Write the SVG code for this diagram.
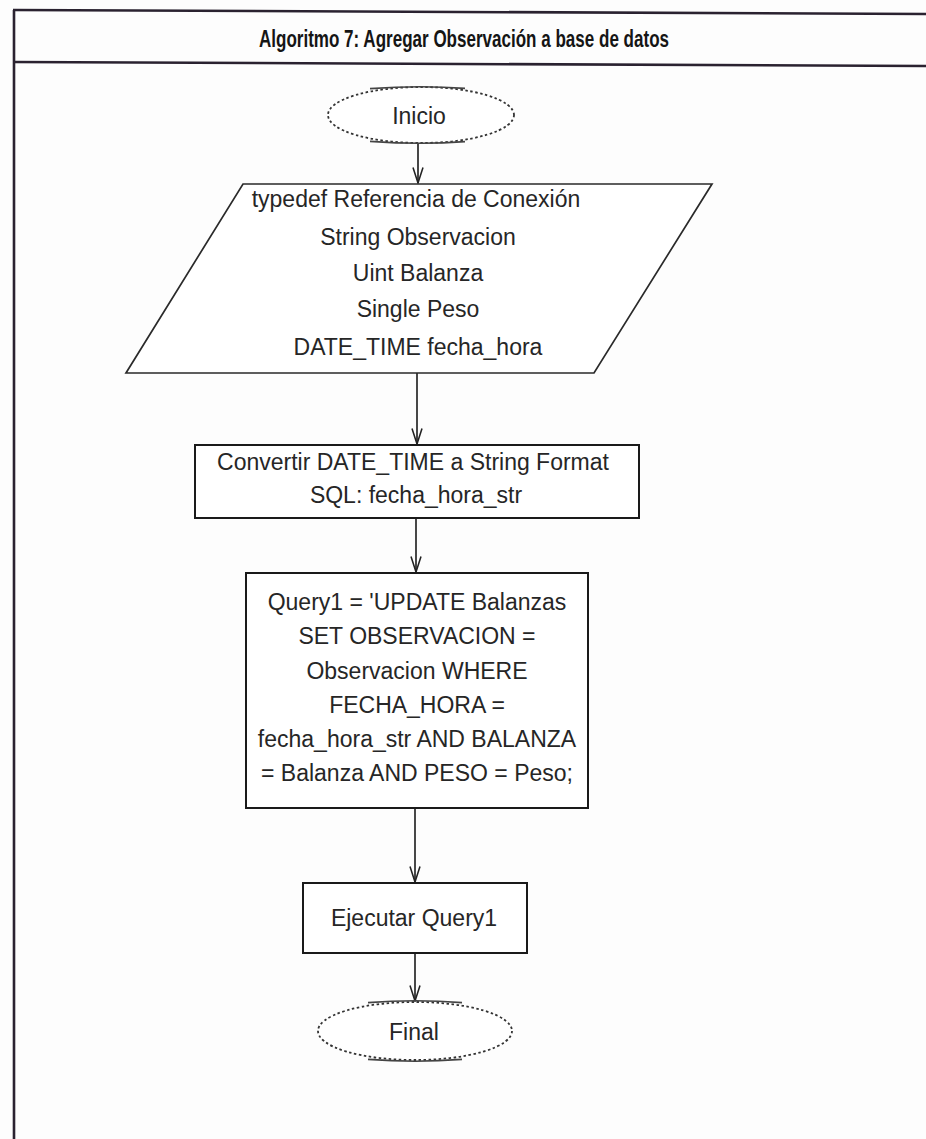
<svg xmlns="http://www.w3.org/2000/svg" width="926" height="1139" viewBox="0 0 926 1139">
  <defs>
    <marker id="vhead" markerUnits="userSpaceOnUse" orient="auto" refX="0" refY="0" markerWidth="20" markerHeight="20" viewBox="-16 -8 18 16" overflow="visible">
      <path d="M-14,-4.5 L0,0 L-14,4.5" fill="none" stroke="#222" stroke-width="1.4"/>
    </marker>
  </defs>
  <style>
    .frame { stroke: #2a2230; stroke-width: 2.6; fill: none; }
    .title { font-family: "Liberation Sans Narrow", "Liberation Sans", Arial, sans-serif; font-weight: bold; font-size: 24px; fill: #151515; text-anchor: middle; }
    .lbl { font-family: "Liberation Sans", Arial, sans-serif; font-size: 23px; fill: #262626; text-anchor: middle; }
    .box { fill: #ffffff; stroke: #1a1a1a; stroke-width: 2; }
    .para { fill: #ffffff; stroke: #2a2a2a; stroke-width: 1.7; }
    .term-dots { fill: #ffffff; stroke: #333; stroke-width: 1.8; stroke-dasharray: 2.5 2.5; }
    .term-solid { fill: none; stroke: #444; stroke-width: 1.6; }
    .edge { stroke: #1a1a1a; stroke-width: 1.6; fill: none; marker-end: url(#vhead); }
  </style>

  <rect x="0" y="0" width="926" height="1139" fill="#fdfdfd"/>

  <!-- outer frame and title band -->
  <g id="frame">
    <line class="frame" x1="14" y1="10" x2="14" y2="1139"/>
    <line class="frame" x1="13" y1="10" x2="926" y2="14"/>
    <line class="frame" x1="13" y1="62" x2="926" y2="66"/>
    <text class="title" x="464" y="47" textLength="410" lengthAdjust="spacingAndGlyphs">Algoritmo 7: Agregar Observación a base de datos</text>
  </g>

  <!-- connectors -->
  <g id="connectors">
    <line class="edge" x1="418" y1="143" x2="418" y2="183"/>
    <line class="edge" x1="417" y1="373" x2="417" y2="444"/>
    <line class="edge" x1="416" y1="518" x2="416" y2="572"/>
    <line class="edge" x1="415" y1="808" x2="415" y2="882"/>
    <line class="edge" x1="415" y1="953" x2="415" y2="1001"/>
  </g>

  <g id="inicio">
    <ellipse class="term-dots" cx="421" cy="115" rx="93" ry="28"/>
    <path class="term-solid" d="M370,88.6 Q421,85 465,88.4 M370,141.4 Q421,145 465,141.6"/>
    <text class="lbl" x="419" y="124">Inicio</text>
  </g>

  <g id="declaraciones">
    <polygon class="para" points="243,184 712,184 594,373 126,373"/>
    <text class="lbl" x="416" y="207">typedef Referencia de Conexión</text>
    <text class="lbl" x="418" y="245">String Observacion</text>
    <text class="lbl" x="418" y="281">Uint Balanza</text>
    <text class="lbl" x="418" y="317">Single Peso</text>
    <text class="lbl" x="418" y="355">DATE_TIME fecha_hora</text>
  </g>

  <g id="convertir">
    <rect class="box" x="195" y="445" width="444" height="73"/>
    <text class="lbl" x="413" y="470">Convertir DATE_TIME a String Format</text>
    <text class="lbl" x="416" y="503">SQL: fecha_hora_str</text>
  </g>

  <g id="query">
    <rect class="box" x="246" y="573" width="342" height="235"/>
    <text class="lbl" x="417" y="610">Query1 = 'UPDATE Balanzas</text>
    <text class="lbl" x="417" y="644">SET OBSERVACION =</text>
    <text class="lbl" x="417" y="679">Observacion WHERE</text>
    <text class="lbl" x="417" y="713">FECHA_HORA =</text>
    <text class="lbl" x="417" y="747">fecha_hora_str AND BALANZA</text>
    <text class="lbl" x="417" y="781">= Balanza AND PESO = Peso;</text>
  </g>

  <g id="ejecutar">
    <rect class="box" x="303" y="883" width="224" height="70"/>
    <text class="lbl" x="414" y="926">Ejecutar Query1</text>
  </g>

  <g id="final">
    <ellipse class="term-dots" cx="415" cy="1031" rx="97" ry="29"/>
    <path class="term-solid" d="M368,1002.6 Q415,999 462,1002.6 M368,1059.4 Q415,1063 462,1059.4"/>
    <text class="lbl" x="414" y="1040">Final</text>
  </g>
</svg>
